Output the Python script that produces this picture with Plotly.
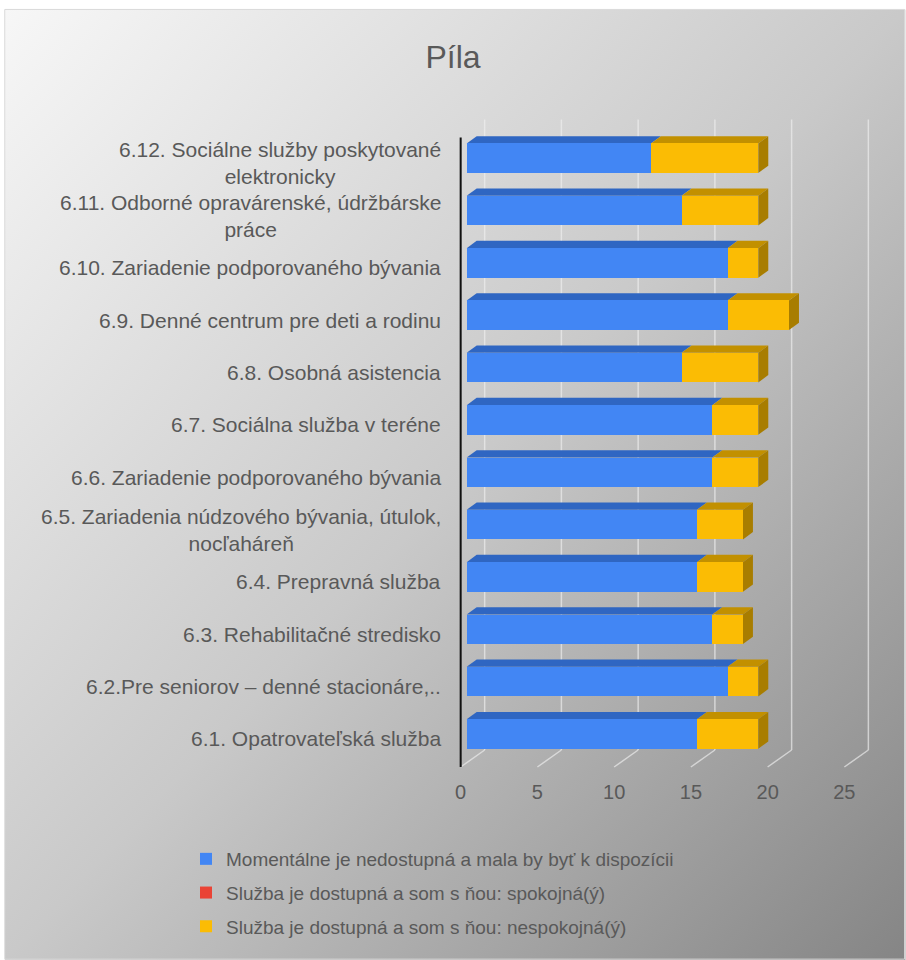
import base64
import plotly.graph_objects as go

# --- données ---
categories = [
    "6.1. Opatrovateľská služba",
    "6.2.Pre seniorov – denné stacionáre,..",
    "6.3. Rehabilitačné stredisko",
    "6.4. Prepravná služba",
    "6.5. Zariadenia núdzového bývania, útulok,<br>nocľaháreň",
    "6.6. Zariadenie podporovaného bývania",
    "6.7. Sociálna služba v teréne",
    "6.8. Osobná asistencia",
    "6.9. Denné centrum pre deti a rodinu",
    "6.10. Zariadenie podporovaného bývania",
    "6.11. Odborné opravárenské, údržbárske<br>práce",
    "6.12. Sociálne služby poskytované<br>elektronicky",
]
nedostupna = [15, 17, 16, 15, 15, 16, 16, 14, 17, 17, 14, 12]
spokojna = [0, 0, 0, 0, 0, 0, 0, 0, 0, 0, 0, 0]
nespokojna = [4, 2, 2, 3, 3, 3, 3, 5, 4, 2, 5, 7]

series_names = [
    "Momentálne je nedostupná a mala by byť k dispozícii",
    "Služba je dostupná a som s ňou: spokojná(ý)",
    "Služba je dostupná a som s ňou: nespokojná(ý)",
]
x_ticks = [0, 5, 10, 15, 20, 25]

# couleurs (face, dessus, côté)
colors = [
    ("#4286f4", "#2f66c2", "#2a5bb0"),
    ("#ea4335", "#b8342a", "#a02d25"),
    ("#fbbc04", "#c29000", "#a87d00"),
]

# --- géométrie (pixels) ---
W_FIG, H_FIG = 906, 960
PX0, XSCALE = 467, 15.35       # pixel du 0, px par unité
XMIN, XMAX = -0.5, 26.8
YPX0, YSCALE = 734, 52.3        # pixel de la 1re catégorie, px par catégorie
YMIN, YMAX = -0.65, 11.75
L = PX0 + XMIN * XSCALE
R = PX0 + XMAX * XSCALE
B = YPX0 - YMIN * YSCALE
T = YPX0 - YMAX * YSCALE

def paper_x(px):
    return (px - L) / (R - L)

def paper_y(py):
    return (B - py) / (B - T)

BAR_W = 0.565
DX = 10 / XSCALE    # profondeur 3D
DY = 7.3 / YSCALE

fig = go.Figure()

ypos = list(range(len(categories)))
for name, vals, (c_front, _, _) in zip(series_names, [nedostupna, spokojna, nespokojna], colors):
    fig.add_trace(go.Bar(
        y=ypos, x=vals, orientation="h", name=name, width=BAR_W,
        marker=dict(color=c_front, line=dict(width=0)),
        legendgroup=name,
    ))

shapes = []
# mur du fond : lignes de grille + sol
for t in x_ticks:
    shapes.append(dict(type="line", xref="x", yref="y", layer="below",
                       x0=t + 18 / XSCALE, x1=t + 18 / XSCALE,
                       y0=-(750 - YPX0) / YSCALE, y1=YMAX - 0.01,
                       line=dict(color="rgba(240,240,240,0.65)", width=1.5)))
    shapes.append(dict(type="line", xref="x", yref="y", layer="below",
                       x0=t - 6 / XSCALE, x1=t + 18 / XSCALE,
                       y0=-(767 - YPX0) / YSCALE, y1=-(750 - YPX0) / YSCALE,
                       line=dict(color="rgba(240,240,240,0.65)", width=1.5)))

# faces du dessus et côté droit des barres
for i in ypos:
    start = 0
    segs = []
    for vals, cols in zip([nedostupna, spokojna, nespokojna], colors):
        v = vals[i]
        if v > 0:
            segs.append((start, start + v, cols))
        start += v
    yt = i + BAR_W / 2
    yb = i - BAR_W / 2
    for x0, x1, cols in segs:
        shapes.append(dict(type="path", xref="x", yref="y", layer="below",
                           path=f"M {x0},{yt} L {x1},{yt} L {x1 + DX},{yt + DY} L {x0 + DX},{yt + DY} Z",
                           fillcolor=cols[1], line=dict(width=0)))
    x0, x1, cols = segs[-1]
    shapes.append(dict(type="path", xref="x", yref="y", layer="below",
                       path=f"M {x1},{yb} L {x1},{yt} L {x1 + DX},{yt + DY} L {x1 + DX},{yb + DY} Z",
                       fillcolor=cols[2], line=dict(width=0)))

# axe vertical noir
shapes.append(dict(type="line", xref="x", yref="y", layer="above",
                   x0=-6 / XSCALE, x1=-6 / XSCALE,
                   y0=-(767 - YPX0) / YSCALE, y1=(YPX0 - 138) / YSCALE,
                   line=dict(color="#111111", width=2)))

# cadre du graphique
shapes.append(dict(type="rect", xref="paper", yref="paper", layer="below",
                   x0=paper_x(5), x1=paper_x(905), y0=paper_y(959), y1=paper_y(10),
                   line=dict(color="#d9d9d9", width=1)))

# fond dégradé (svg)
svg = (f'<svg xmlns="http://www.w3.org/2000/svg" width="{W_FIG}" height="{H_FIG}">'
       '<defs><linearGradient id="g" x1="0" y1="0" x2="1" y2="1">'
       '<stop offset="0" stop-color="#f7f7f7"/>'
       '<stop offset="0.5" stop-color="#c9c9c9"/>'
       '<stop offset="1" stop-color="#858585"/>'
       '</linearGradient></defs>'
       f'<rect width="{W_FIG}" height="{H_FIG}" fill="url(#g)"/></svg>')
svg_b64 = base64.b64encode(svg.encode()).decode()
fig.add_layout_image(dict(
    source=f"data:image/svg+xml;base64,{svg_b64}",
    xref="paper", yref="paper",
    x=paper_x(5), y=paper_y(10),
    sizex=(W_FIG - 5) / (R - L), sizey=(H_FIG - 10) / (B - T),
    xanchor="left", yanchor="top", sizing="stretch", layer="below",
))

# libellés des catégories
for i, cat in enumerate(categories):
    fig.add_annotation(
        x=paper_x(443), xref="paper", y=i, yref="y",
        text=cat, showarrow=False, xanchor="right", yanchor="middle",
        align="center", yshift=-5,
        font=dict(size=21, color="#595959", family="Liberation Sans"),
    )

fig.update_layout(
    width=W_FIG, height=H_FIG,
    barmode="stack",
    bargap=0,
    shapes=shapes,
    title=dict(text="Píla", x=0.5, xanchor="center", xref="container",
               y=1 - 57 / H_FIG, yanchor="middle", yref="container",
               font=dict(size=32, color="#595959", family="Liberation Sans")),
    xaxis=dict(range=[XMIN, XMAX], tickvals=x_ticks, showgrid=False, zeroline=False,
               showline=False, ticks="", ticklabelstandoff=10, ticklabelshift=-6,
               tickfont=dict(size=20, color="#595959", family="Liberation Sans"),
               fixedrange=True),
    yaxis=dict(range=[YMIN, YMAX], showticklabels=False, showgrid=False,
               zeroline=False, showline=False, fixedrange=True),
    legend=dict(xref="container", yref="container", x=186 / W_FIG, y=1 - 840 / H_FIG,
                xanchor="left", yanchor="top", orientation="v",
                tracegroupgap=6, bgcolor="rgba(0,0,0,0)",
                font=dict(size=19, color="#595959", family="Liberation Sans")),
    paper_bgcolor="white",
    plot_bgcolor="rgba(0,0,0,0)",
    margin=dict(l=L, r=W_FIG - R, t=T, b=H_FIG - B, autoexpand=False),
)

fig.write_html("out.html", config={"displayModeBar": False},
               post_script="document.body.style.margin='0';")
